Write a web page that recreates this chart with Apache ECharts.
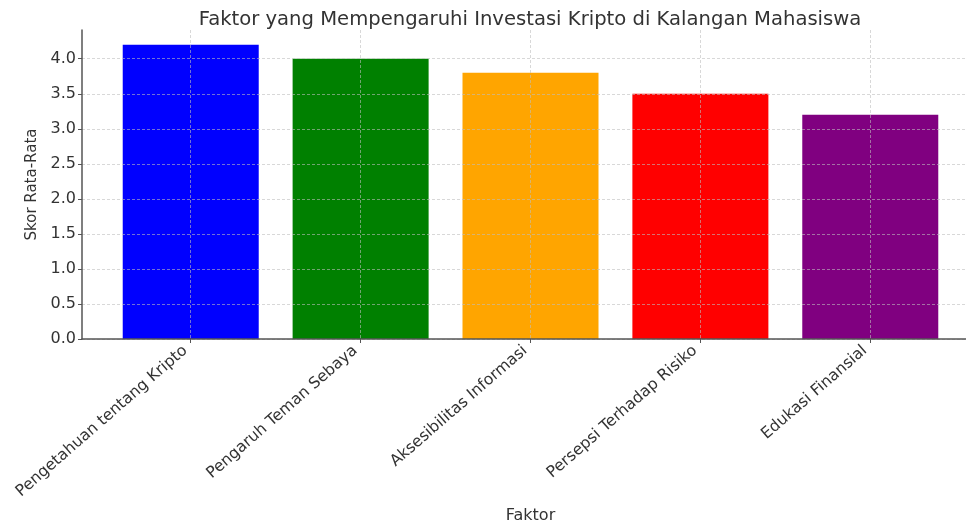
<!DOCTYPE html>
<html>
<head>
<meta charset="utf-8">
<script src="https://cdn.jsdelivr.net/npm/echarts@6/dist/echarts.min.js"></script>
<style>html,body{margin:0;padding:0;background:#fff}#c{width:966px;height:523px}</style>
</head>
<body>
<div id="c"></div>
<script>
const categories = ["Pengetahuan tentang Kripto", "Pengaruh Teman Sebaya", "Aksesibilitas Informasi", "Persepsi Terhadap Risiko", "Edukasi Finansial"];
const values = [4.2, 4.0, 3.8, 3.5, 3.2];
const barColors = ["#0000ff", "#008000", "#ffa500", "#ff0000", "#800080"];
const yTicks = [0, 0.5, 1.0, 1.5, 2.0, 2.5, 3.0, 3.5, 4.0];
const title = "Faktor yang Mempengaruhi Investasi Kripto di Kalangan Mahasiswa";
const xName = "Faktor";
const yName = "Skor Rata-Rata";

const idx = categories.map((_, i) => i);
const font = "DejaVu Sans";
const gridLine = { show: true, lineStyle: { color: "rgba(190,190,190,0.75)", type: [3, 2], width: 0.8 } };

const chart = echarts.init(document.getElementById("c"));
chart.setOption({
  animation: false,
  textStyle: { fontFamily: font },
  title: { text: title, left: 525, textAlign: "center", top: 5,
    textStyle: { fontFamily: font, fontSize: 19.6, fontWeight: "normal", color: "#333" } },
  grid: { left: 82, top: 30, width: 897, height: 309, containLabel: false, outerBoundsMode: "none" },
  xAxis: {
    type: "value", min: -0.64, max: categories.length - 1 + 0.64, z: 5,
    name: xName, nameLocation: "middle", nameGap: 177, nameMoveOverlap: false,
    nameTextStyle: { fontFamily: font, fontSize: 16, color: "#333", verticalAlign: "middle" },
    axisLine: { show: true, onZero: false, lineStyle: { color: "#555", width: 1.5 } },
    axisTick: { show: true, length: 4, customValues: idx, lineStyle: { color: "#555" } },
    axisLabel: { customValues: idx, rotate: 41, margin: 5, fontSize: 15.7, color: "#333",
      padding: [0, 7, 0, 0],
      formatter: v => categories[Math.round(v)] },
    splitLine: gridLine
  },
  yAxis: {
    type: "value", min: 0, max: 4.41, z: 5,
    name: yName, nameLocation: "middle", nameGap: 37, nameRotate: 90,
    nameTextStyle: { fontFamily: font, fontSize: 15, color: "#333" },
    axisLine: { show: true, onZero: false, lineStyle: { color: "#555", width: 1.5 } },
    axisTick: { show: true, length: 4, customValues: yTicks, lineStyle: { color: "#555" } },
    axisLabel: { customValues: yTicks, fontSize: 16, color: "#333", margin: 6,
      formatter: v => v.toFixed(1) },
    splitLine: gridLine
  },
  series: [{
    type: "bar", barWidth: 136, z: 2,
    data: values.map((v, i) => ({ value: [i, v], itemStyle: { color: barColors[i] } }))
  }]
});
</script>
</body>
</html>
